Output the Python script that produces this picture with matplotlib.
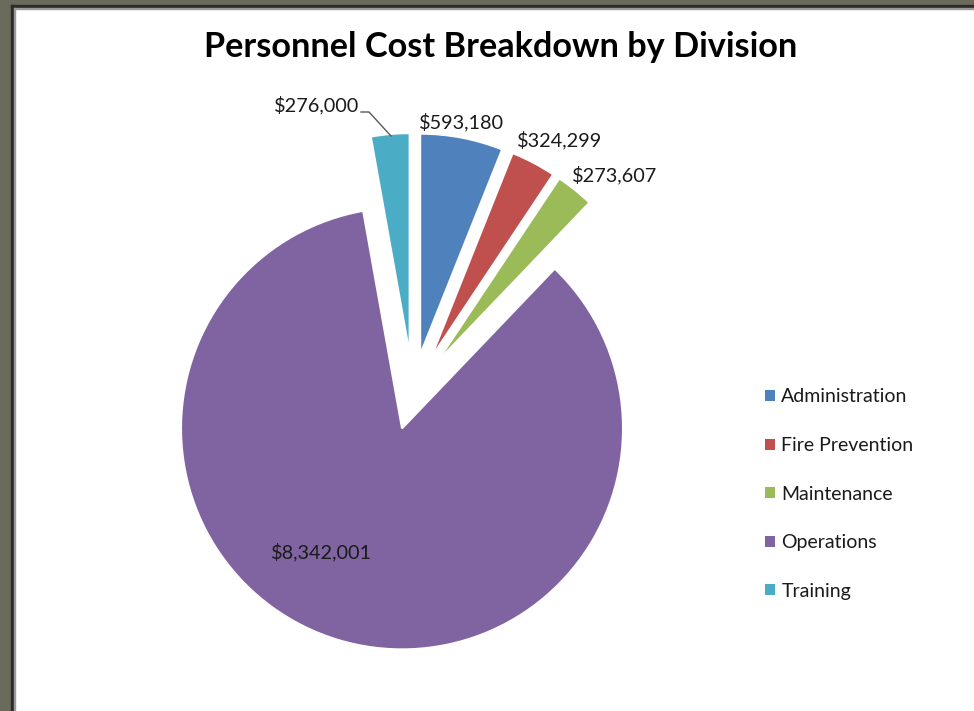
import matplotlib
matplotlib.use("Agg")
import matplotlib.pyplot as plt
from matplotlib.patches import Rectangle

# data
divisions = ["Administration", "Fire Prevention", "Maintenance", "Operations", "Training"]
costs = [593180, 324299, 273607, 8342001, 276000]
cost_labels = ["$593,180", "$324,299", "$273,607", "$8,342,001", "$276,000"]
colors = ["#4F81BD", "#C0504D", "#9BBB59", "#8064A2", "#4BACC6"]

# layout (pixel coords, y measured from top)
W, H = 974, 711
pieCX, pieCY = 413, 392
pieR = 221
explodePx = 38
labelPos = [(461, 122), (560, 140), (615, 175), (321, 552), (317, 105)]
fontName = "Lato"

fig = plt.figure(figsize=(W / 100.0, H / 100.0), dpi=100)
fig.patch.set_facecolor("white")

# outer frame like the screenshot
frame = "#6B6B5C"
fig.patches.append(Rectangle((0, 0), 11.0 / W, 1, transform=fig.transFigure, color=frame, zorder=0))
fig.patches.append(Rectangle((0, 1 - 5.0 / H), 1, 5.0 / H, transform=fig.transFigure, color=frame, zorder=0))
fig.patches.append(Rectangle((11.0 / W, 0), 2.0 / W, 1 - 5.0 / H, transform=fig.transFigure, color="#2b2b2b", zorder=0))
fig.patches.append(Rectangle((11.0 / W, 1 - 7.0 / H), 1, 2.0 / H, transform=fig.transFigure, color="#2b2b2b", zorder=0))
fig.patches.append(Rectangle((14.0 / W, 0), 1.0 / W, 1 - 8.0 / H, transform=fig.transFigure, color="#9a9a9a", zorder=0))
fig.patches.append(Rectangle((14.0 / W, 1 - 9.0 / H), 1, 1.0 / H, transform=fig.transFigure, color="#9a9a9a", zorder=0))

ax = fig.add_axes([0, 0, 1, 1])
ax.patch.set_alpha(0)

wedges, _ = ax.pie(costs, colors=colors, startangle=90, counterclock=False,
                   center=(pieCX, H - pieCY), radius=pieR,
                   explode=[explodePx] * len(costs),
                   wedgeprops=dict(edgecolor="white", linewidth=1.5))
for w, lab in zip(wedges, divisions):
    w.set_label(lab)

ax.set_xlim(0, W)
ax.set_ylim(0, H)
ax.set_aspect("equal")
ax.axis("off")

for txt, (px, py) in zip(cost_labels, labelPos):
    ax.text(px, H - py, txt, ha="center", va="center", fontsize=14.3,
            family=fontName, color="#1a1a1a")

# leader line for Training label
ax.plot([361, 369, 391], [H - 112, H - 112, H - 136], color="#595959", linewidth=1.0)

ax.text(501, H - 47, "Personnel Cost Breakdown by Division", ha="center", va="center",
        fontsize=24.7, fontweight="bold", family=fontName, color="black")

leg = ax.legend(handles=wedges, labels=divisions, loc="center left",
                bbox_to_anchor=(757, H - 494), bbox_transform=ax.transData,
                frameon=False, fontsize=14, handlelength=0.5, handleheight=0.5,
                handletextpad=0.35, labelspacing=1.62, borderaxespad=0)
for t in leg.get_texts():
    t.set_family(fontName)
    t.set_color("#1a1a1a")
for h in leg.legend_handles:
    h.set_linewidth(0)

fig.savefig("out.png", dpi=100)
